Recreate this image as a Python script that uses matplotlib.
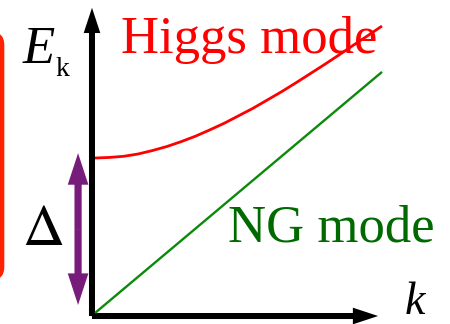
import numpy as np
import matplotlib.pyplot as plt
from matplotlib.patches import FancyBboxPatch

plt.rcParams['mathtext.fontset'] = 'stix'

# dispersion (k and E in the same units)
k_higgs = [0.0, 0.05, 0.1, 0.15, 0.2, 0.25, 0.3, 0.35, 0.4, 0.45, 0.5,
           0.55, 0.6, 0.65, 0.7, 0.75, 0.8, 0.85, 0.9, 0.95, 1.0]
e_higgs = [0.540, 0.542, 0.546, 0.554, 0.566, 0.580, 0.597, 0.616, 0.638,
           0.661, 0.687, 0.713, 0.742, 0.771, 0.802, 0.834, 0.866, 0.899,
           0.933, 0.966, 1.0]
k_ng = [0.0, 1.0]
e_ng = [0.0, 0.84]
gap = [0.028, 0.557]   # ends of the Delta arrow

fig = plt.figure(figsize=(4.5, 3.24), dpi=100)
ax = fig.add_axes([0, 0, 1, 1])
ax.set_xlim(-95 / 287, 355 / 287)
ax.set_ylim(-11 / 287, 313 / 287)
ax.axis('off')

serif = 'Liberation Serif'

# red box peeking in from the left
ax.add_patch(FancyBboxPatch((-0.6, 0.115), 0.6 - 0.316, 0.864,
                            boxstyle='round,pad=0,rounding_size=0.045',
                            facecolor='#ff2200', edgecolor='none'))

# axes with arrow heads
ax.arrow(-0.0105, -0.0105, 0, 1.074, width=0.021, head_width=0.058,
         head_length=0.088, length_includes_head=True, color='k', lw=0)
ax.arrow(-0.0105, -0.0105, 0.997, 0, width=0.021, head_width=0.058,
         head_length=0.088, length_includes_head=True, color='k', lw=0)

ax.plot(k_higgs, e_higgs, color='#ff0000', lw=2.0, solid_capstyle='butt')
ax.plot(k_ng, e_ng, color='#0a8a0a', lw=1.7, solid_capstyle='butt')

# double arrow for the gap
mid = (gap[0] + gap[1]) / 2
for end in gap:
    ax.arrow(-0.059, mid, 0, end - mid, width=0.025, head_width=0.072,
             head_length=0.11, length_includes_head=True,
             color='#781c7c', lw=0)

def label(x, y, s, va='baseline', **kw):
    fig.text(x / 450, 1 - y / 324, s, va=va, family=serif, **kw)

label(23, 63, 'E', fontsize=38, style='italic')
label(56, 76, 'k', fontsize=20)
label(121, 53, 'Higgs mode', fontsize=38, color='#ff0000')
label(228, 242, 'NG mode', fontsize=38, color='#006a00')
label(22, 245, r'$\Delta$', fontsize=42)
label(405, 324, 'k', va='bottom', fontsize=33, style='italic')

plt.savefig('out.png', dpi=100)
